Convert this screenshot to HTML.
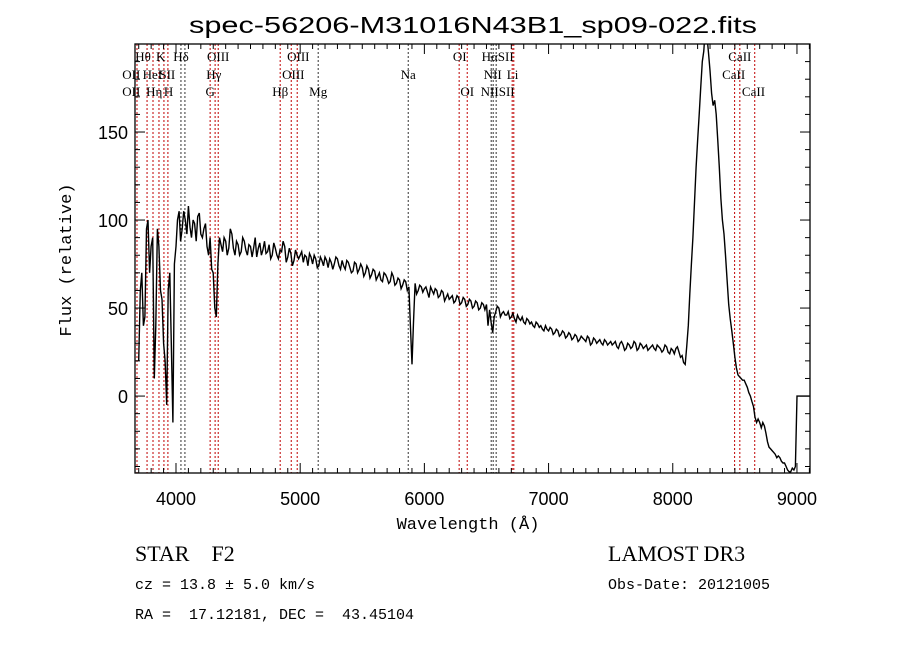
<!DOCTYPE html>
<html><head><meta charset="utf-8"><style>
html,body{margin:0;padding:0;background:#fff;}
svg{display:block;}
</style></head><body>
<svg id="chart" width="900" height="649" viewBox="0 0 900 649" xmlns="http://www.w3.org/2000/svg">
<rect width="900" height="649" fill="#fff"/>
<text x="473" y="33" text-anchor="middle" font-family="Liberation Sans, sans-serif" font-size="23" textLength="568" lengthAdjust="spacingAndGlyphs">spec-56206-M31016N43B1_sp09-022.fits</text>
<g id="lines"></g>
<g id="labels" font-family="Liberation Serif, serif" font-size="13"></g>
<g id="spec"></g>
<g id="axes"></g>
<text x="468" y="529" text-anchor="middle" font-family="Liberation Mono, monospace" font-size="17">Wavelength (Å)</text>
<text transform="translate(71,260) rotate(-90)" text-anchor="middle" font-family="Liberation Mono, monospace" font-size="17">Flux (relative)</text>
<text x="135" y="561" font-family="Liberation Serif, serif" font-size="22" xml:space="preserve">STAR    F2</text>
<text x="608" y="561" font-family="Liberation Serif, serif" font-size="22">LAMOST DR3</text>
<text x="135" y="589" font-family="Liberation Mono, monospace" font-size="15">cz = 13.8 ± 5.0 km/s</text>
<text x="608" y="589" font-family="Liberation Mono, monospace" font-size="15">Obs-Date: 20121005</text>
<text x="135" y="619" font-family="Liberation Mono, monospace" font-size="15" xml:space="preserve">RA =  17.12181, DEC =  43.45104</text>
</svg>
<script>
// ---- data ----
const waveStart = 3700;
const waveStep = 25;
const fluxValues = [
20,70,45,100,85,10,95,60,30,-5,70,-15,
85,105,95,100,108,90,98,102,92,95,85,90,70,45,90,82,88,84,92,80,
86,82,88,80,85,84,79,87,83,81,86,80,84,78,82,85,79,81,77,80,
80,76,79,81,75,78,74,77,79,73,76,75,78,72,74,77,73,71,75,72,
73,70,72,69,71,68,66,70,67,65,68,64,66,63,65,62,18,64,60,62,
61,59,62,58,60,57,59,56,55,57,54,56,53,55,52,54,51,53,50,52,
52,49,36,48,50,47,46,48,45,44,46,43,42,44,41,40,42,39,38,40,
37,38,36,37,35,36,34,35,33,34,32,33,31,33,30,32,31,30,32,29,
31,30,28,30,29,27,29,28,30,27,29,28,26,28,27,29,27,26,28,24,
26,27,25,23,18,40,75,110,145,175,196,205,185,165,160,130,100,80,52,37,
22,12,10,9,5,0,-6,-15,-15,-15,-21,-29,-31,-33,-34,-37,-38,-42,-43,-42,
0
];
// values at the half-steps (waveStart + 12.5 + i*25)
const fluxMid = [
60,40,95,70,90,40,85,55,20,60,30,75,
100,88,105,92,96,100,88,104,90,98,80,72,50,75,86,90,80,95,84,88,
80,90,83,86,79,90,84,80,88,82,78,87,80,83,88,76,84,74,83,78,
82,80,74,79,80,73,79,74,77,78,72,79,74,77,72,76,70,76,70,75,
68,74,67,72,66,70,65,69,64,70,63,67,61,66,60,40,42,58,63,59,
62,56,60,61,56,60,54,58,56,53,57,52,56,51,55,50,54,49,53,49,
40,42,45,51,45,48,46,44,47,42,44,45,41,43,42,39,41,40,37,38,
39,35,38,34,37,33,36,32,35,31,34,32,34,29,33,30,32,29,31,30,
29,31,27,31,26,30,27,31,26,30,27,29,27,29,26,28,25,29,25,27,
24,28,22,19,28,58,90,130,160,190,210,195,172,168,145,112,92,66,44,30,
16,11,9,7,2,-3,-12,-13,-18,-17,-26,-30,-32,-35,-35,-38,-40,-43,-41,-40
];
const tailWaves = [9100];
const tailFlux = [0];
const lineWaves = [3686,3767,3815,3863,3903,3935,4040,4072,4275,4315,4340,4839,4928,4976,5145,5870,6280,6345,6538,6554,6578,6707,6720,8498,8540,8660];
const lineBlack = [0,0,0,0,0,0,1,1,0,0,0,0,0,0,1,1,0,0,1,1,1,0,0,0,0,0];
const labelText = ["Hθ","K","Hδ","OIII","OIII","OI","HαSII","CaII",
                   "OII","HeI","SII","Hγ","OIII","Na","NII","Li","CaII",
                   "OII","Hη","H","G","Hβ","Mg","OI","NIISII","CaII"];
const labelWave = [3735,3877,4040,4340,4985,6285,6590,8540,
                   3640,3810,3930,4305,4945,5870,6550,6710,8490,
                   3640,3825,3940,4275,4840,5145,6345,6590,8650];
const labelRow = [0,0,0,0,0,0,0,0, 1,1,1,1,1,1,1,1,1, 2,2,2,2,2,2,2,2,2];
const xTicks = [4000,5000,6000,7000,8000,9000];
const yTicks = [0,50,100,150];

// ---- axes ----
const L=135,R=810,T=44,B=473;
const xMin=3670, xMax=9105, yMin=-43.7, yMax=200;
const xs = w => L + (w-xMin)/(xMax-xMin)*(R-L);
const ys = f => B - (f-yMin)/(yMax-yMin)*(B-T);
const NS="http://www.w3.org/2000/svg";
function mk(tag, attrs, parent){const e=document.createElementNS(NS,tag);for(const k in attrs)e.setAttribute(k,attrs[k]);parent.appendChild(e);return e;}

const svg=document.getElementById('chart');
const defs=mk('defs',{},svg);
const cp=mk('clipPath',{id:'plotclip'},defs);
mk('rect',{x:L,y:T,width:R-L,height:B-T},cp);

// marker lines
const gl=document.getElementById('lines');
lineWaves.forEach((w,i)=>{
  const ln=mk('line',{x1:xs(w),x2:xs(w),y1:T,y2:B,stroke:lineBlack[i]?'#333':'#c00000','stroke-width':1,'stroke-dasharray':'2,2'},gl);
  
  
});
// labels
const glb=document.getElementById('labels');
const rowY=[61,79,96];
labelText.forEach((t,i)=>{
  const tx=mk('text',{x:xs(labelWave[i]),y:rowY[labelRow[i]],'text-anchor':'middle'},glb);
  tx.textContent=t;
  
  
});

// spectrum
const gs=document.getElementById('spec');
gs.setAttribute('clip-path','url(#plotclip)');
let pts=[];
fluxValues.forEach((f,i)=>{
  pts.push(xs(waveStart+i*waveStep).toFixed(1)+','+ys(f).toFixed(1));
  if(i<fluxMid.length) pts.push(xs(waveStart+i*waveStep+waveStep/2).toFixed(1)+','+ys(fluxMid[i]).toFixed(1));
});
tailWaves.forEach((w,i)=>pts.push(xs(w).toFixed(1)+','+ys(tailFlux[i]).toFixed(1)));
const pl=mk('polyline',{points:pts.join(' '),fill:'none',stroke:'#000','stroke-width':1.4,'stroke-linejoin':'miter'},gs);



// frame and ticks
const ga=document.getElementById('axes');
const fr=mk('rect',{x:L,y:T,width:R-L,height:B-T,fill:'none',stroke:'#000','stroke-width':1.3},ga);


for(let w=3700; w<=9100; w+=100){
  const len = (w%1000===0)?10:5;
  mk('line',{x1:xs(w),x2:xs(w),y1:B,y2:B-len,stroke:'#000'},ga);
  mk('line',{x1:xs(w),x2:xs(w),y1:T,y2:T+len,stroke:'#000'},ga);
}
for(let v=-40; v<=200; v+=10){
  const len=(v%50===0)?10:5;
  mk('line',{x1:L,x2:L+len,y1:ys(v),y2:ys(v),stroke:'#000'},ga);
  mk('line',{x1:R,x2:R-len,y1:ys(v),y2:ys(v),stroke:'#000'},ga);
}
xTicks.forEach(w=>{
  const t=mk('text',{x:xs(w),y:505,'text-anchor':'middle','font-family':'Liberation Sans, sans-serif','font-size':18},ga);
  t.textContent=w;
  
  
});
yTicks.forEach(v=>{
  const t=mk('text',{x:128,y:ys(v)+7,'text-anchor':'end','font-family':'Liberation Sans, sans-serif','font-size':18},ga);
  t.textContent=v;
  
  
});
</script>
</body></html>
